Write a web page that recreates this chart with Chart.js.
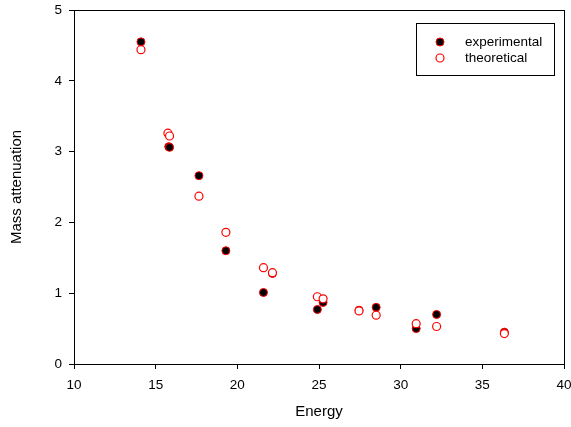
<!DOCTYPE html>
<html>
<head>
<meta charset="utf-8">
<script src="https://cdn.jsdelivr.net/npm/chart.js@4/dist/chart.umd.min.js"></script>
<style>
    html, body { margin: 0; padding: 0; background: #fff; }
    #wrap { width: 571px; height: 427px; position: relative; }
</style>
</head>
<body>
<div id="wrap"><canvas id="myChart"></canvas></div>
<script>
// energies and attenuation values
const energiaExp = [14.1, 15.8, 15.85, 17.65, 19.3, 21.6, 22.15, 24.9, 25.25, 27.45, 28.5, 30.95, 32.2, 36.35];
const atenExp    = [4.55, 3.07, 3.06, 2.66, 1.60, 1.01, 1.28, 0.77, 0.87, 0.76, 0.80, 0.50, 0.70, 0.45];
const energiaTeo = [14.1, 15.75, 15.85, 17.65, 19.3, 21.6, 22.15, 24.9, 25.25, 27.45, 28.5, 30.95, 32.2, 36.35];
const atenTeo    = [4.44, 3.26, 3.22, 2.37, 1.86, 1.36, 1.29, 0.95, 0.92, 0.75, 0.69, 0.57, 0.53, 0.43];
const xTicks = [10, 15, 20, 25, 30, 35, 40];
const yTicks = [0, 1, 2, 3, 4, 5];

function pares(xs, ys) {
    return xs.map((x, i) => ({x: x, y: ys[i]}));
}

const fonte = "'Liberation Sans', Arial, sans-serif";

// frame around the plot and a boxed legend inside it
const molduraPlugin = {
    id: 'moldura',
    afterDatasetsDraw(chart) {
        const ctx = chart.ctx;
        const a = chart.chartArea;
        ctx.save();
        ctx.strokeStyle = '#000';
        ctx.lineWidth = 1;
        ctx.strokeRect(Math.round(a.left) + 0.5, Math.round(a.top) + 0.5,
            Math.round(a.right - a.left), Math.round(a.bottom - a.top));

        const bx = 416, by = 23, bw = 138, bh = 52;
        ctx.fillStyle = '#fff';
        ctx.fillRect(bx, by, bw, bh);
        ctx.strokeRect(bx + 0.5, by + 0.5, bw, bh);
        ctx.font = '13.5px ' + fonte;
        ctx.textBaseline = 'middle';
        chart.data.datasets.forEach((ds, i) => {
            const cy = by + 19 + i * 16;
            ctx.beginPath();
            ctx.arc(bx + 24, cy, ds.pointRadius, 0, Math.PI * 2);
            ctx.fillStyle = ds.backgroundColor;
            ctx.fill();
            ctx.lineWidth = ds.borderWidth;
            ctx.strokeStyle = ds.borderColor;
            ctx.stroke();
            ctx.fillStyle = '#000';
            ctx.fillText(ds.label, bx + 49, cy);
        });
        ctx.restore();
    }
};

new Chart('myChart', {
    type: 'scatter',
    data: {
        datasets: [{
            label: 'experimental',
            data: pares(energiaExp, atenExp),
            backgroundColor: '#000',
            borderColor: '#ff0000',
            borderWidth: 1,
            pointRadius: 4,
            order: 2
        }, {
            label: 'theoretical',
            data: pares(energiaTeo, atenTeo),
            backgroundColor: '#fff',
            borderColor: '#ff0000',
            borderWidth: 1.2,
            pointRadius: 4,
            order: 1
        }]
    },
    options: {
        responsive: true,
        maintainAspectRatio: false,
        animation: false,
        layout: {padding: {top: 10, right: 7, left: 0, bottom: 0}},
        plugins: {
            legend: {display: false},
            tooltip: {enabled: false}
        },
        scales: {
            x: {
                type: 'linear',
                min: 10,
                max: 40,
                afterBuildTicks: s => { s.ticks = xTicks.map(v => ({value: v})); },
                afterFit: s => { s.height = 63; s.paddingRight = 0; s.paddingLeft = 0; },
                grid: {drawOnChartArea: false, tickLength: 5, color: '#000'},
                border: {color: '#000'},
                ticks: {color: '#000', padding: 8, maxRotation: 0, font: {family: fonte, size: 13.5}},
                title: {display: true, text: 'Energy', color: '#000', padding: {top: 0, bottom: 6},
                    font: {family: fonte, size: 15}}
            },
            y: {
                type: 'linear',
                min: 0,
                max: 5,
                afterBuildTicks: s => { s.ticks = yTicks.map(v => ({value: v})); },
                afterFit: s => { s.width = 74; s.paddingTop = 0; s.paddingBottom = 0; },
                grid: {drawOnChartArea: false, tickLength: 5, color: '#000'},
                border: {color: '#000'},
                ticks: {color: '#000', padding: 7, font: {family: fonte, size: 13.5}},
                title: {display: true, text: 'Mass attenuation', color: '#000', padding: {top: 8, bottom: 0},
                    font: {family: fonte, size: 15}}
            }
        }
    },
    plugins: [molduraPlugin]
});
</script>
</body>
</html>
